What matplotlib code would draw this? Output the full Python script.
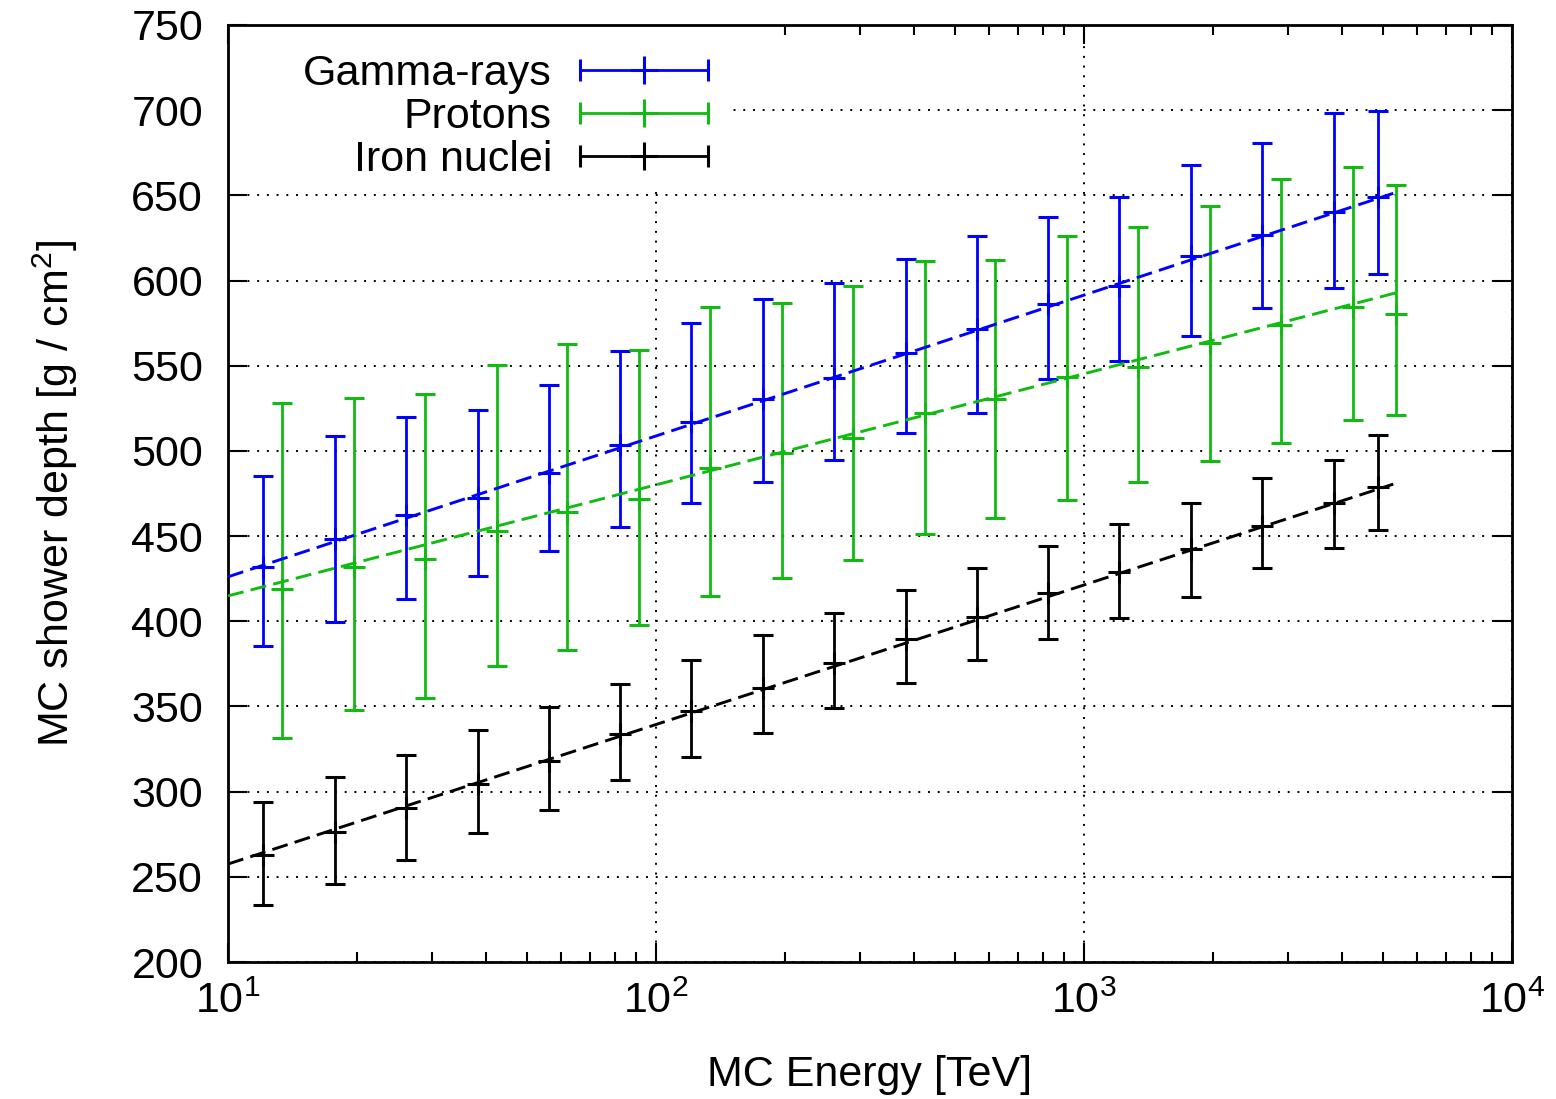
import numpy as np
import matplotlib
matplotlib.use('Agg')
import matplotlib.pyplot as plt
from matplotlib.container import ErrorbarContainer
from matplotlib.legend_handler import HandlerErrorbar
from matplotlib.patches import Rectangle
from matplotlib.ticker import NullFormatter

plt.rcParams['font.family'] = ['Liberation Sans', 'DejaVu Sans']
plt.rcParams['mathtext.fontset'] = 'custom'
plt.rcParams['mathtext.rm'] = 'Liberation Sans'
plt.rcParams['mathtext.it'] = 'Liberation Sans:italic'
plt.rcParams['mathtext.bf'] = 'Liberation Sans:bold'

# --- data ---
# energy bins [TeV]
e_gamma = [12.1, 17.8, 26.1, 38.3, 56.2, 82.5, 121, 178, 261, 383, 562, 825,
           1210, 1780, 2610, 3830, 4860]
e_proton = [13.4, 19.7, 28.9, 42.4, 62.1, 91.2, 134, 197, 289, 424, 621, 912,
            1340, 1970, 2890, 4240, 5370]
e_iron = [12.1, 17.8, 26.1, 38.3, 56.2, 82.5, 121, 178, 261, 383, 562, 825,
          1210, 1780, 2610, 3830, 4860]

# gamma-rays: mean, upper and lower end of error bar [g/cm2]
gamma_mean = [431.7, 448.0, 462.1, 472.3, 486.9, 503.5, 517.2, 530.3, 542.6, 557.3,
              571.4, 586.2, 596.8, 614.4, 626.7, 640.4, 649.2]
gamma_hi = [485.1, 508.8, 519.8, 524.3, 538.5, 558.8, 574.9, 589.0, 598.8, 612.6,
            626.1, 637.1, 649.2, 667.8, 680.9, 698.2, 699.7]
gamma_lo = [385.2, 399.6, 413.0, 426.6, 441.5, 455.5, 469.5, 481.6, 494.7, 510.5,
            522.5, 542.5, 552.8, 567.5, 583.7, 595.4, 603.8]

# protons
proton_mean = [419.0, 431.7, 436.7, 453.2, 464.3, 471.8, 489.8, 498.6, 507.4, 522.5,
               530.3, 543.2, 549.4, 563.1, 573.9, 584.7, 580.2]
proton_hi = [527.9, 531.2, 533.6, 550.4, 562.5, 559.2, 584.7, 586.6, 596.8, 611.5,
             612.0, 626.1, 631.6, 643.8, 659.6, 666.8, 656.1]
proton_lo = [331.6, 348.0, 355.2, 373.7, 383.2, 397.6, 414.6, 425.4, 435.7, 451.4,
             460.5, 471.0, 481.6, 494.1, 504.4, 517.9, 521.1]

# iron nuclei
iron_mean = [263.0, 276.5, 290.4, 304.6, 318.1, 333.8, 347.5, 361.1, 375.7, 389.4,
             402.8, 416.4, 428.8, 442.2, 455.7, 469.7, 478.6]
iron_hi = [293.8, 308.7, 321.5, 336.1, 349.6, 363.0, 377.3, 391.9, 404.6, 418.4,
           431.1, 444.2, 456.9, 469.2, 484.3, 494.6, 509.6]
iron_lo = [233.3, 245.5, 260.1, 276.0, 289.1, 306.8, 320.2, 334.2, 348.8, 363.6,
           377.3, 389.4, 402.2, 414.5, 431.2, 442.8, 453.3]

# fitted lines (end points)
fit_gamma_x = [10, 5280]
fit_gamma_y = [426.1, 651.2]
fit_proton_x = [10, 5380]
fit_proton_y = [414.9, 592.9]
fit_iron_x = [10, 5280]
fit_iron_y = [257.5, 480.5]

labels = ['Gamma-rays', 'Protons', 'Iron nuclei']
colors = ['#0000ff', '#11bb11', '#000000']

fig = plt.figure(figsize=(15.56, 10.99), dpi=100)
ax = fig.add_axes([228 / 1556, 1 - 962 / 1099, (1512 - 228) / 1556, (962 - 25) / 1099])

series = [(e_gamma, gamma_mean, gamma_lo, gamma_hi),
          (e_proton, proton_mean, proton_lo, proton_hi),
          (e_iron, iron_mean, iron_lo, iron_hi)]
fits = [(fit_gamma_x, fit_gamma_y), (fit_proton_x, fit_proton_y), (fit_iron_x, fit_iron_y)]

style = dict(fmt='+', ms=16, mew=2.2, elinewidth=2, capsize=7, capthick=2)

for (e, m, lo, hi), col in zip(series, colors):
    m = np.array(m)
    yerr = [m - np.array(lo), np.array(hi) - m]
    ax.errorbar(e, m, yerr=yerr, color=col, zorder=3, **style)

for (fx, fy), col in zip(fits, colors):
    ax.plot(fx, fy, color=col, lw=2.1, ls=(0, (5.5, 2.5)), zorder=4)

# legend proxies: horizontal error bar with caps, like gnuplot's key
handles = []
for lab, col in zip(labels, colors):
    h = ax.errorbar([np.nan], [np.nan], xerr=[1.0], color=col, label=lab,
                    fmt='+', ms=20, mew=2.2, elinewidth=2, capsize=8, capthick=2)
    handles.append(h)

# key background hides the grid
ax.add_patch(Rectangle((0, 0.829), 0.391, 0.171, transform=ax.transAxes,
                       facecolor='white', edgecolor='none', zorder=1))
ax.legend(handles=handles, loc='upper right', bbox_to_anchor=(0.374, 0.9695),
          frameon=False, markerfirst=False, handlelength=2.98, handletextpad=0.65,
          labelspacing=0.08, borderpad=0, borderaxespad=0, fontsize=31,
          handler_map={ErrorbarContainer: HandlerErrorbar(xerr_size=1.49)})

ax.set_xscale('log')
ax.set_xlim(10, 1e4)
ax.set_ylim(200, 750)
ax.set_yticks(np.arange(200, 751, 50))
ax.xaxis.set_minor_formatter(NullFormatter())

ax.tick_params(which='both', direction='in', top=True, right=True, width=1.5, labelsize=31)
ax.tick_params(which='major', length=14)
ax.tick_params(which='minor', length=7)
ax.tick_params(axis='y', pad=18)
ax.tick_params(axis='x', pad=14)
ax.grid(True, which='major', color='black', ls=(0, (1, 4)), lw=1.4)
ax.set_axisbelow(True)
for s in ax.spines.values():
    s.set_linewidth(2)

ax.set_xlabel('MC Energy [TeV]', fontsize=31, labelpad=24)
ax.set_ylabel('MC shower depth [g / cm$^2$]', fontsize=31, labelpad=37)

fig.savefig('out.png', dpi=100)
